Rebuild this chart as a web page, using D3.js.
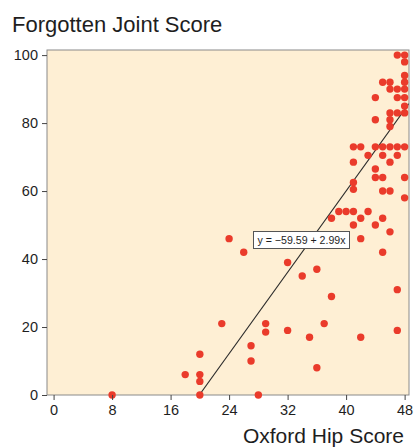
<!DOCTYPE html>
<html>
<head>
  <meta charset="utf-8">
  <title>Forgotten Joint Score vs Oxford Hip Score</title>
  <script src="https://cdn.jsdelivr.net/npm/d3@7/dist/d3.min.js"></script>
  <style>
    body { margin: 0; background: #fff; }
    svg text { font-family: "Liberation Sans", Arial, Helvetica, sans-serif; fill: #1e1e1e; }
  </style>
</head>
<body>
  <svg width="414" height="448"></svg>

  <script>
    // data
    const ohs = [8, 18, 20, 20, 20, 20, 23, 24, 26, 27, 27, 28, 29, 29, 32, 32, 34, 35, 36, 36,
      37, 38, 38, 39, 40, 41, 41, 41, 41, 41, 41, 42, 42, 42, 42, 43, 43, 44, 44, 44,
      44, 44, 44, 45, 45, 45, 45, 45, 45, 45, 46, 46, 46, 46, 46, 46, 46, 46, 46, 47,
      47, 47, 47, 47, 47, 47, 47, 48, 48, 48, 48, 48, 48, 48, 48, 48, 48, 48];
    const fjs = [0, 6, 12, 6, 4, 0, 21, 46, 42, 14.5, 10, 0, 21, 18.5, 39, 19, 35, 17, 37, 8,
      21, 29, 52, 54, 54, 54, 50, 60.5, 62.5, 68.5, 73, 73, 52, 46, 17, 54, 70.5, 50, 64, 66.5,
      73, 81, 87.5, 52, 42, 60, 64, 70.5, 73, 92, 48, 60, 68.5, 73, 79, 81, 83, 90, 92, 19,
      31, 70.5, 73, 83, 87.5, 90, 100, 58, 64, 73, 83, 85, 87.5, 90, 92, 94, 98, 100];
    const xTicks = [0, 8, 16, 24, 32, 40, 48];
    const yTicks = [0, 20, 40, 60, 80, 100];
    const intercept = -59.59;
    const slope = 2.99;

    const svg = d3.select("svg");
    const pl = 47, pr = 409, pt = 50, pb = 395;

    const x = d3.scaleLinear().domain([-0.9, 48.6]).range([pl, pr]);
    const y = d3.scaleLinear().domain([0, 101.5]).range([pb, pt]);

    svg.append("defs").append("clipPath").attr("id", "plot")
      .append("rect")
      .attr("x", pl).attr("y", pt)
      .attr("width", pr - pl).attr("height", pb - pt);

    svg.append("rect")
      .attr("x", pl).attr("y", pt)
      .attr("width", pr - pl).attr("height", pb - pt)
      .attr("fill", "#feefd4");

    // regression line
    const x0 = -intercept / slope;
    const x1 = x.domain()[1];
    svg.append("line")
      .attr("clip-path", "url(#plot)")
      .attr("x1", x(x0)).attr("y1", y(0))
      .attr("x2", x(x1)).attr("y2", y(intercept + slope * x1))
      .attr("stroke", "#2a2a2a")
      .attr("stroke-width", 1.1);

    svg.append("rect")
      .attr("x", pl).attr("y", pt)
      .attr("width", pr - pl).attr("height", pb - pt)
      .attr("fill", "none")
      .attr("stroke", "#8a8a8a")
      .attr("stroke-width", 1);

    svg.append("g")
      .selectAll("circle")
      .data(ohs.map((v, i) => [v, fjs[i]]))
      .join("circle")
      .attr("cx", d => x(d[0]))
      .attr("cy", d => y(d[1]))
      .attr("r", 3.7)
      .attr("fill", "#ea3b2b");

    // equation label
    const lab = svg.append("g")
      .attr("transform", `translate(${x(33.9)},${y(45.6)})`);
    lab.append("rect")
      .attr("x", -48).attr("y", -8.5)
      .attr("width", 96).attr("height", 17)
      .attr("fill", "#fff")
      .attr("stroke", "#555")
      .attr("stroke-width", 1);
    lab.append("text")
      .attr("text-anchor", "middle")
      .attr("dy", "0.36em")
      .attr("font-size", 10.6)
      .text("y = \u221259.59 + 2.99x");

    const xAxis = svg.append("g")
      .attr("transform", `translate(0,${pb})`)
      .call(d3.axisBottom(x).tickValues(xTicks).tickSize(5).tickPadding(5));
    const yAxis = svg.append("g")
      .attr("transform", `translate(${pl},0)`)
      .call(d3.axisLeft(y).tickValues(yTicks).tickSize(5).tickPadding(4));
    [xAxis, yAxis].forEach(a => {
      a.select(".domain").remove();
      a.selectAll(".tick line").attr("stroke", "#444");
      a.selectAll(".tick text")
        .attr("font-size", 14.5)
        .attr("font-family", "'Liberation Sans', Arial, sans-serif")
        .attr("fill", "#1e1e1e");
    });

    svg.append("text")
      .attr("x", 12).attr("y", 32)
      .attr("font-size", 22)
      .text("Forgotten Joint Score");

    svg.append("text")
      .attr("x", 404).attr("y", 443)
      .attr("text-anchor", "end")
      .attr("font-size", 21)
      .text("Oxford Hip Score");
  </script>
</body>
</html>
